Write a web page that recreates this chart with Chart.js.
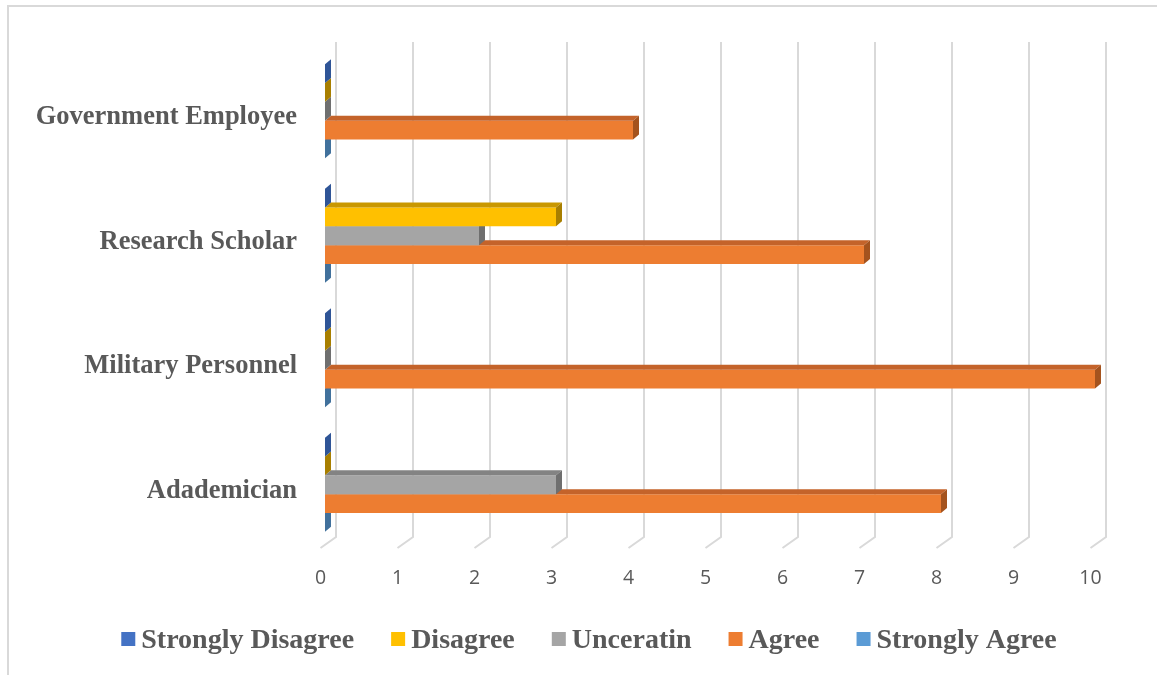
<!DOCTYPE html>
<html><head><meta charset="utf-8">
<script src="https://cdn.jsdelivr.net/npm/chart.js@4.4.1/dist/chart.umd.min.js"></script>
<style>html,body{margin:0;padding:0;background:#fff;}#wrap{position:relative;width:1157px;height:675px;}</style>
</head><body><div id="wrap"><canvas id="c" width="1157" height="675"></canvas></div>
<script>
const categories = ['Government Employee', 'Research Scholar', 'Military Personnel', 'Adademician'];
const seriesNames = ['Strongly Disagree', 'Disagree', 'Unceratin', 'Agree', 'Strongly Agree'];
const stronglyDisagree = [0, 0, 0, 0];
const disagree = [0, 3, 0, 0];
const uncertain = [0, 2, 0, 3];
const agree = [4, 7, 10, 8];
const stronglyAgree = [0, 0, 0, 0];
const xTicks = [0, 1, 2, 3, 4, 5, 6, 7, 8, 9, 10];

const seriesValues = [stronglyDisagree, disagree, uncertain, agree, stronglyAgree];
const frontColors = ['#4472C4', '#FFC000', '#A5A5A5', '#ED7D31', '#5B9BD5'];
const topColors = ['#3A64AE', '#C99700', '#838383', '#C4632A', '#4C85B8'];
const sideColors = ['#2F5597', '#A87F00', '#6F6F6F', '#A4531E', '#41719C'];
const DX = 6, DY = -5;

function poly(ctx, pts, color) {
  ctx.beginPath();
  ctx.moveTo(pts[0][0], pts[0][1]);
  for (let k = 1; k < pts.length; k++) ctx.lineTo(pts[k][0], pts[k][1]);
  ctx.closePath();
  ctx.fillStyle = color;
  ctx.fill();
}

const borderPlugin = {
  id: 'border',
  beforeDraw(chart) {
    const ctx = chart.ctx;
    ctx.save();
    ctx.strokeStyle = '#D9D9D9';
    ctx.lineWidth = 2;
    ctx.beginPath();
    ctx.moveTo(8, 675); ctx.lineTo(8, 6); ctx.lineTo(1157, 6);
    ctx.stroke();
    ctx.restore();
  }
};

const gridPlugin = {
  id: 'grid3d',
  beforeDatasetsDraw(chart) {
    const ctx = chart.ctx, xs = chart.scales.x, a = chart.chartArea;
    ctx.save();
    ctx.strokeStyle = '#D9D9D9';
    ctx.lineWidth = 2;
    xTicks.forEach(v => {
      const p = xs.getPixelForValue(v);
      ctx.beginPath();
      ctx.moveTo(p + 11, a.top - 7);
      ctx.lineTo(p + 11, a.bottom - 10);
      ctx.lineTo(p - 4.5, a.bottom + 1);
      ctx.stroke();
    });
    ctx.restore();
  }
};

const facesPlugin = {
  id: 'faces3d',
  afterDatasetDraw(chart, args) {
    const ctx = chart.ctx, i = args.index;
    ctx.save();
    args.meta.data.forEach(el => {
      const p = el.getProps(['x', 'y', 'base', 'height'], true);
      const top = p.y - p.height / 2, bot = p.y + p.height / 2;
      if (p.x - p.base > 0.5) {
        poly(ctx, [[p.base, top], [p.base + DX, top + DY], [p.x + DX, top + DY], [p.x, top]], topColors[i]);
      }
      poly(ctx, [[p.x, top], [p.x + DX, top + DY], [p.x + DX, bot + DY], [p.x, bot]], sideColors[i]);
    });
    ctx.restore();
  }
};

const legendPlugin = {
  id: 'legendCustom',
  afterDraw(chart) {
    const ctx = chart.ctx;
    ctx.save();
    ctx.font = 'bold 28px "Liberation Serif"';
    const items = chart.data.datasets.map((d, i) => ({ text: d.label, color: frontColors[i], w: ctx.measureText(d.label).width }));
    const box = 14, gap = 6, spacing = 37;
    let total = items.reduce((s, it) => s + box + gap + it.w, 0) + spacing * (items.length - 1);
    let x = 589 - total / 2;
    ctx.textBaseline = 'alphabetic';
    ctx.textAlign = 'left';
    items.forEach(it => {
      ctx.fillStyle = it.color;
      ctx.fillRect(x, 632, box, box);
      ctx.fillStyle = '#595959';
      ctx.fillText(it.text, x + box + gap, 648);
      x += box + gap + it.w + spacing;
    });
    ctx.restore();
  }
};

new Chart(document.getElementById('c'), {
  type: 'bar',
  data: {
    labels: categories,
    datasets: seriesValues.map((v, i) => ({
      label: seriesNames[i],
      data: v,
      backgroundColor: frontColors[i],
      borderWidth: 0,
      barPercentage: 1,
      categoryPercentage: 0.757
    }))
  },
  options: {
    indexAxis: 'y',
    responsive: false,
    animation: false,
    layout: { padding: { left: 0, right: 62, top: 49, bottom: 78 } },
    plugins: { legend: { display: false }, tooltip: { enabled: false } },
    scales: {
      x: {
        min: 0, max: 10,
        afterBuildTicks: s => { s.ticks = xTicks.map(v => ({ value: v })); },
        grid: { display: false, drawTicks: false, tickLength: 0 },
        border: { display: false },
        ticks: { padding: 20, labelOffset: -4.5, color: '#595959', font: { family: 'Open Sans', size: 19.5 } },
        afterFit: s => { s.height = 50; }
      },
      y: {
        grid: { display: false, drawTicks: false, tickLength: 0 },
        border: { display: false },
        ticks: { padding: 28, labelOffset: 6, color: '#595959', font: { family: 'Liberation Serif', size: 26.5, weight: 'bold' } },
        afterFit: s => { s.width = 325; }
      }
    }
  },
  plugins: [borderPlugin, gridPlugin, facesPlugin, legendPlugin]
});
</script>
</body></html>
